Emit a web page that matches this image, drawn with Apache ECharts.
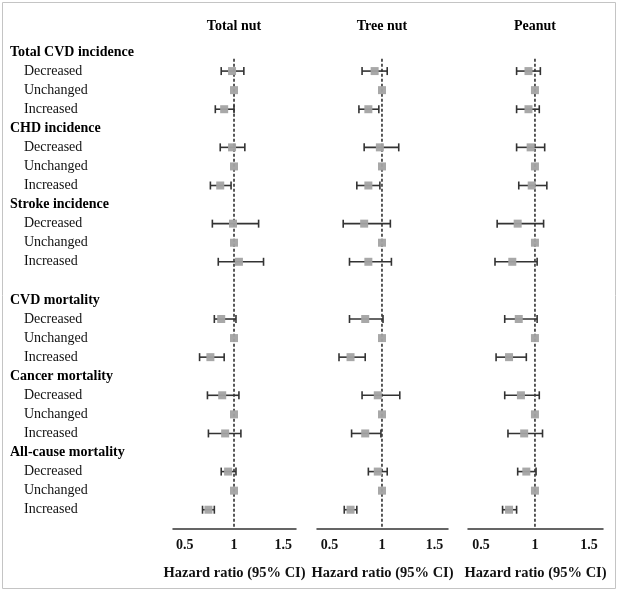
<!DOCTYPE html>
<html><head><meta charset="utf-8">
<script src="https://cdn.jsdelivr.net/npm/echarts@6/dist/echarts.min.js"></script>
<style>html,body{margin:0;padding:0;background:#fff}#c{width:620px;height:592px}</style>
</head><body><div id="c"></div>
<script>
const rowLabels = ['Total CVD incidence','Decreased','Unchanged','Increased',
  'CHD incidence','Decreased','Unchanged','Increased',
  'Stroke incidence','Decreased','Unchanged','Increased','',
  'CVD mortality','Decreased','Unchanged','Increased',
  'Cancer mortality','Decreased','Unchanged','Increased',
  'All-cause mortality','Decreased','Unchanged','Increased'];
const headerRows = [0,4,8,13,17,21];
const panelTitles = ['Total nut','Tree nut','Peanut'];
const xTickValues = [0.5,1,1.5];
const axisTitle = 'Hazard ratio (95% CI)';

// order per outcome: Decreased, Unchanged, Increased
const totalPt = [0.98,1,0.90, 0.98,1,0.86, 0.99,1,1.05, 0.87,1,0.76, 0.88,1,0.91, 0.94,1,0.74];
const totalLo = [0.87,null,0.81, 0.86,null,0.76, 0.78,null,0.84, 0.80,null,0.65, 0.73,null,0.74, 0.87,null,0.68];
const totalHi = [1.10,null,1.00, 1.11,null,0.97, 1.25,null,1.30, 1.02,null,0.90, 1.05,null,1.07, 1.02,null,0.80];

const treePt = [0.93,1,0.87, 0.98,1,0.87, 0.83,1,0.87, 0.84,1,0.70, 0.96,1,0.84, 0.96,1,0.70];
const treeLo = [0.81,null,0.78, 0.83,null,0.76, 0.63,null,0.69, 0.69,null,0.59, 0.81,null,0.71, 0.87,null,0.64];
const treeHi = [1.05,null,0.97, 1.16,null,0.98, 1.08,null,1.09, 1.01,null,0.84, 1.17,null,0.99, 1.05,null,0.76];

const peanutPt = [0.94,1,0.94, 0.96,1,0.97, 0.84,1,0.79, 0.85,1,0.76, 0.87,1,0.90, 0.92,1,0.76];
const peanutLo = [0.83,null,0.83, 0.83,null,0.85, 0.65,null,0.63, 0.72,null,0.64, 0.72,null,0.75, 0.84,null,0.70];
const peanutHi = [1.05,null,1.04, 1.09,null,1.11, 1.08,null,1.02, 1.02,null,0.92, 1.04,null,1.07, 1.01,null,0.83];

const panels = [[totalPt,totalLo,totalHi],[treePt,treeLo,treeHi],[peanutPt,peanutLo,peanutHi]];

const dataRows = [];
headerRows.forEach(h => { dataRows.push(h+1,h+2,h+3); });

const FONT = '"Liberation Serif","Times New Roman",serif';
const gridLefts = [173,317,468];
const gridWidths = [123,131,135];
const X_MIN = 0.38, X_MAX = 1.63;
const Y_MAX = 25;

const grids = [], xAxes = [], yAxes = [], series = [], graphics = [];
panels.forEach((p, i) => {
  grids.push({left: gridLefts[i], width: gridWidths[i], top: 52, height: 476.8});
  xAxes.push({
    type: 'value', gridIndex: i, min: X_MIN, max: X_MAX,
    axisLine: {show: true, onZero: false, lineStyle: {color: '#333', width: 1.5}},
    axisTick: {show: false},
    splitLine: {show: false},
    axisLabel: {customValues: xTickValues, formatter: v => String(v), color: '#111',
      fontFamily: FONT, fontWeight: 'bold', fontSize: 14, margin: 10, showMinLabel: true, showMaxLabel: true},
    name: axisTitle, nameLocation: 'middle', nameGap: 37,
    nameTextStyle: {fontFamily: FONT, fontWeight: 'bold', fontSize: 14.5, color: '#111'}
  });
  yAxes.push({
    type: 'value', gridIndex: i, inverse: true, min: 0, max: Y_MAX, interval: 1,
    axisLine: {show: false}, axisTick: {show: false}, splitLine: {show: false},
    axisLabel: i === 0 ? {
      show: true, align: 'left', margin: 163,
      formatter: v => {
        const t = rowLabels[v];
        if (!t) return '';
        return headerRows.indexOf(v) >= 0 ? '{h|' + t + '}' : '{s|' + t + '}';
      },
      rich: {
        h: {fontFamily: FONT, fontWeight: 'bold', fontSize: 14, color: '#000'},
        s: {fontFamily: FONT, fontSize: 14, color: '#111', padding: [0,0,0,14]}
      }
    } : {show: false}
  });
  // reference line at HR = 1
  series.push({
    type: 'line', xAxisIndex: i, yAxisIndex: i, symbol: 'none', silent: true,
    data: [[1, 0.35], [1, Y_MAX]],
    lineStyle: {color: '#222', width: 1.5, type: [3, 2]}, z: 1
  });
  // error bars
  const ebData = [];
  p[0].forEach((v, k) => { if (p[1][k] != null) ebData.push([p[1][k], p[2][k], dataRows[k]]); });
  series.push({
    type: 'custom', xAxisIndex: i, yAxisIndex: i, silent: true, z: 2,
    encode: {x: [0, 1], y: 2},
    data: ebData,
    renderItem: (params, api) => {
      const a = api.coord([api.value(0), api.value(2)]);
      const b = api.coord([api.value(1), api.value(2)]);
      const st = {stroke: '#333', lineWidth: 1.6};
      const c = 4;
      return {type: 'group', children: [
        {type: 'line', shape: {x1: a[0], y1: a[1], x2: b[0], y2: b[1]}, style: st},
        {type: 'line', shape: {x1: a[0], y1: a[1]-c, x2: a[0], y2: a[1]+c}, style: st},
        {type: 'line', shape: {x1: b[0], y1: b[1]-c, x2: b[0], y2: b[1]+c}, style: st}
      ]};
    }
  });
  // point estimates
  series.push({
    type: 'scatter', xAxisIndex: i, yAxisIndex: i, symbol: 'rect', symbolSize: 8, z: 3,
    itemStyle: {color: '#a3a3a3', opacity: 0.95},
    data: p[0].map((v, k) => [v, dataRows[k]])
  });
  graphics.push({type: 'text', x: gridLefts[i] + (1 - X_MIN) / (X_MAX - X_MIN) * gridWidths[i], y: 26,
    style: {text: panelTitles[i], align: 'center', verticalAlign: 'middle', font: 'bold 14px ' + FONT, fill: '#000'}});
});
graphics.push({type: 'rect', shape: {x: 2.5, y: 2.5, width: 613, height: 586},
  style: {fill: 'none', stroke: '#c4c4c4', lineWidth: 1}, z: -1});

const chart = echarts.init(document.getElementById('c'), null, {renderer: 'canvas'});
chart.setOption({
  animation: false,
  backgroundColor: '#fff',
  grid: grids, xAxis: xAxes, yAxis: yAxes, series: series, graphic: graphics
});
</script></body></html>
